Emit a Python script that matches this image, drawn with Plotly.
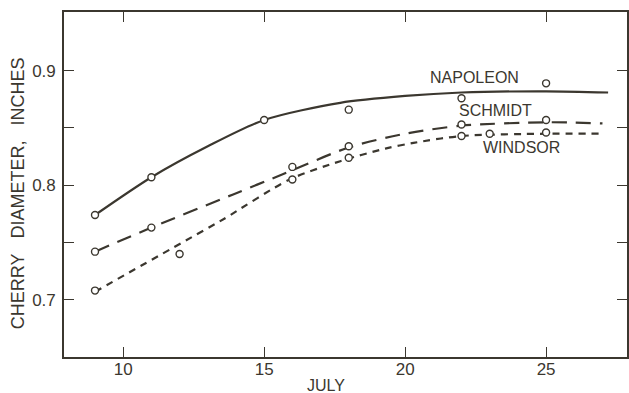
import plotly.graph_objects as go

# Measured cherry diameters (inches) by date in July
napoleon_days = [9, 11, 15, 18, 22, 25]
napoleon_diam = [0.774, 0.807, 0.857, 0.866, 0.876, 0.889]

schmidt_days = [9, 11, 16, 18, 22, 25]
schmidt_diam = [0.742, 0.763, 0.816, 0.834, 0.853, 0.857]

windsor_days = [9, 12, 16, 18, 22, 23, 25]
windsor_diam = [0.708, 0.740, 0.805, 0.824, 0.843, 0.845, 0.846]

# Hand-fitted growth curves through the observations
napoleon_curve_x = [9, 11, 13, 15, 17.7, 20, 22, 25, 27.2]
napoleon_curve_y = [0.774, 0.807, 0.834, 0.857, 0.872, 0.878, 0.881, 0.882, 0.881]

schmidt_curve_x = [9, 11, 13.9, 15.7, 18, 20, 22, 25, 27]
schmidt_curve_y = [0.742, 0.763, 0.792, 0.810, 0.833, 0.845, 0.852, 0.855, 0.854]

windsor_curve_x = [9, 12.6, 13.6, 15.9, 17.7, 19.3, 20.3, 22, 25, 27]
windsor_curve_y = [0.707, 0.757, 0.771, 0.805, 0.821, 0.832, 0.837, 0.843, 0.845, 0.845]

x_ticks = [10, 15, 20, 25]
y_ticks = [0.70, 0.75, 0.80, 0.85, 0.90]
y_tick_text = ["0.7", "", "0.8", "", "0.9"]

INK = "#3b372f"
FONT = "Liberation Sans"

fig = go.Figure()

curves = [
    (napoleon_curve_x, napoleon_curve_y, "solid", "Napoleon"),
    (schmidt_curve_x, schmidt_curve_y, "15px,9px", "Schmidt"),
    (windsor_curve_x, windsor_curve_y, "7px,6px", "Windsor"),
]
for cx, cy, dash, name in curves:
    fig.add_trace(go.Scatter(
        x=cx, y=cy, mode="lines", name=name,
        line=dict(color=INK, width=2.2, dash=dash, shape="spline", smoothing=0.8),
        showlegend=False, hoverinfo="skip",
    ))

for px, py, name in [
    (napoleon_days, napoleon_diam, "Napoleon"),
    (schmidt_days, schmidt_diam, "Schmidt"),
    (windsor_days, windsor_diam, "Windsor"),
]:
    fig.add_trace(go.Scatter(
        x=px, y=py, mode="markers", name=name,
        marker=dict(symbol="circle", size=7, color="white",
                    line=dict(color=INK, width=1.4)),
        showlegend=False,
    ))

label_font = dict(family=FONT, size=16, color=INK)
for text, lx, ly in [("NAPOLEON", 22.47, 0.8943),
                     ("SCHMIDT", 23.2, 0.8655),
                     ("WINDSOR", 24.13, 0.8332)]:
    fig.add_annotation(x=lx, y=ly, text=text, showarrow=False,
                       xanchor="center", yanchor="middle", font=label_font)

sp = "\u00a0" * 3
fig.add_annotation(xref="paper", yref="paper", x=-0.0814, y=0.475,
                   text=f"CHERRY{sp}DIAMETER,{sp}INCHES", textangle=-90,
                   showarrow=False, xanchor="center", yanchor="middle",
                   font=dict(family=FONT, size=18, color=INK))
fig.add_annotation(xref="paper", yref="paper", x=0.4655, y=-0.084,
                   text="JULY", showarrow=False, xanchor="center", yanchor="middle",
                   font=dict(family=FONT, size=16, color=INK))

axis_common = dict(
    showline=True, linecolor=INK, linewidth=1.6, mirror="ticks",
    ticks="inside", tickcolor=INK, tickwidth=1.4, ticklen=10,
    showgrid=False, zeroline=False,
    tickfont=dict(family=FONT, size=17, color=INK),
)

fig.update_xaxes(range=[7.9, 27.87], tickvals=x_ticks,
                 ticktext=[str(v) for v in x_ticks],
                 ticklabelstandoff=-4, **axis_common)
fig.update_yaxes(range=[0.65, 0.9513], tickvals=y_ticks, ticktext=y_tick_text,
                 ticklabelstandoff=3, **axis_common)

fig.update_layout(
    width=629, height=393,
    margin=dict(l=64, r=0, t=12, b=36),
    paper_bgcolor="white", plot_bgcolor="white",
)

fig.write_html("out.html")
